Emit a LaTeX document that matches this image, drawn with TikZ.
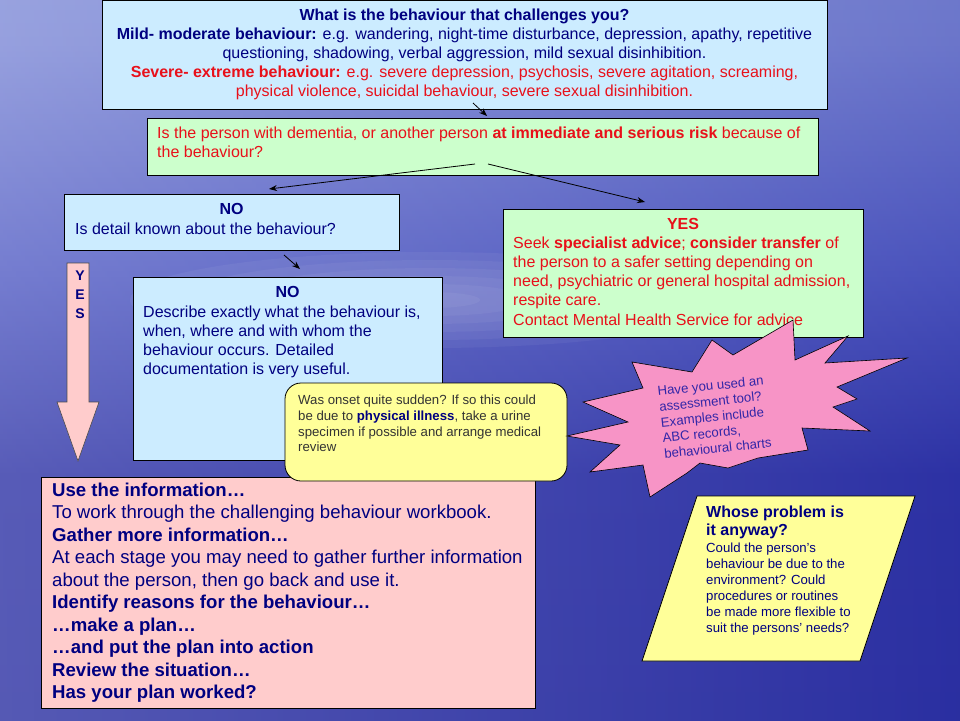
\documentclass[tikz,border=0pt]{standalone}
\usepackage{fontspec}
\setmainfont{Liberation Sans}
\usetikzlibrary{arrows.meta}
\definecolor{navy}{HTML}{000080}
\definecolor{redtxt}{HTML}{E8101A}
\definecolor{boxblue}{HTML}{CCECFF}
\definecolor{boxgreen}{HTML}{CCFFCC}
\definecolor{boxpink}{HTML}{FFCCCC}
\definecolor{boxyellow}{HTML}{FFFF99}
\definecolor{starpink}{HTML}{F794C6}
\definecolor{startxt}{HTML}{3226A8}
\definecolor{graytxt}{HTML}{333333}
\definecolor{bgA}{HTML}{96A6E4}
\definecolor{bgB}{HTML}{7C88D6}
\definecolor{bgC}{HTML}{525CC4}
\definecolor{bgD}{HTML}{2E33A6}
\definecolor{bgE}{HTML}{272B9C}
\pgfdeclareverticalshading{bgshade}{100bp}{color(0bp)=(bgE); color(42bp)=(bgD); color(56bp)=(bgC); color(72bp)=(bgB); color(100bp)=(bgA)}
\newcommand\fs[2]{\fontsize{#1}{#2}\selectfont}
\begin{document}
\begin{tikzpicture}[x=1pt,y=-1pt,
  box/.style={draw=black, line width=0.8pt, anchor=north west, inner sep=0pt, outer sep=0pt},
  tl/.style={anchor=base west, inner sep=0pt, font=\fs{16}{19}},
  tc/.style={anchor=base, inner sep=0pt, font=\fs{16}{19}},
  bl/.style={anchor=base west, inner sep=0pt, font=\fs{18.6}{22}, text=navy},
  yl/.style={anchor=base west, inner sep=0pt, font=\fs{13.2}{15.7}, text=graytxt},
  sl/.style={anchor=base west, inner sep=0pt, font=\fs{13.2}{15.7}, text=startxt},
  pl/.style={anchor=base west, inner sep=0pt, font=\fs{13.2}{16}, text=navy},
  arr/.style={-{Stealth[length=8pt,width=6pt]}, line width=0.8pt, black}]
\useasboundingbox (0,0) rectangle (960,720);
% background
\shade[shading=bgshade] (0,0) rectangle (960,720);
\shade[left color=white, middle color=bgC, right color=bgE, opacity=0.2] (0,0) rectangle (960,720);
\foreach \r in {1,...,6}{\fill[white, opacity=0.05] (430,300) ellipse ({50*\r} and {8*\r});}

% boxes
\node[box, fill=boxblue, minimum width=725pt, minimum height=109pt] (top) at (102,0.4) {};
\node[box, fill=boxgreen, minimum width=671pt, minimum height=57pt] (risk) at (147,118) {};
\node[box, fill=boxblue, minimum width=335pt, minimum height=56pt] (no1) at (64,194) {};
\node[box, fill=boxblue, minimum width=309pt, minimum height=183pt] (no2) at (133,277) {};
\node[box, fill=boxgreen, minimum width=360pt, minimum height=128pt] (yes) at (503,209) {};
\node[box, fill=boxpink, minimum width=494pt, minimum height=231pt] (use) at (41,477) {};

% YES arrow
\draw[fill=boxpink, line width=0.6pt, draw=black!70] (67,263) -- (89,263) -- (89,402) -- (99,402) -- (78,461) -- (57,402) -- (67,402) -- cycle;
\node[anchor=base, inner sep=0pt, font=\fs{14}{16}\bfseries, text=navy] (yY) at (80,280) {Y};
\node[anchor=base, inner sep=0pt, font=\fs{14}{16}\bfseries, text=navy] (yE) at (80,299) {E};
\node[anchor=base, inner sep=0pt, font=\fs{14}{16}\bfseries, text=navy] (yS) at (80,318) {S};

% top box text
\node[tc, text=navy] (t1) at (464.5,20) {\textbf{What is the behaviour that challenges you?}};
\node[tc, text=navy] (t2) at (464.5,39.5) {\textbf{Mild- moderate behaviour:} e.g. wandering, night-time disturbance, depression, apathy, repetitive};
\node[tc, text=navy] (t3) at (464.5,58.5) {questioning, shadowing, verbal aggression, mild sexual disinhibition.};
\node[tc, text=redtxt] (t4) at (464.5,77.5) {\textbf{Severe- extreme behaviour:} e.g. severe depression, psychosis, severe agitation, screaming,};
\node[tc, text=redtxt] (t5) at (464.5,96.5) {physical violence, suicidal behaviour, severe sexual disinhibition.};

% risk box text
\node[tl, text=redtxt] (r1) at (157,138) {Is the person with dementia, or another person \textbf{at immediate and serious risk} because of};
\node[tl, text=redtxt] (r2) at (157,157) {the behaviour?};

% NO box 1
\node[tc, text=navy] (n1a) at (231.5,214) {\textbf{NO}};
\node[tl, text=navy] (n1b) at (75,234) {Is detail known about the behaviour?};

% NO box 2
\node[tc, text=navy] (n2a) at (287.5,297) {\textbf{NO}};
\node[tl, text=navy] (n2b) at (143,317) {Describe exactly what the behaviour is,};
\node[tl, text=navy] (n2c) at (143,336) {when, where and with whom the};
\node[tl, text=navy] (n2d) at (143,355) {behaviour occurs. Detailed};
\node[tl, text=navy] (n2e) at (143,374) {documentation is very useful.};

% YES box
\node[tc, text=redtxt] (y1) at (683,229) {\textbf{YES}};
\node[tl, text=redtxt] (y2) at (513,248) {Seek \textbf{specialist advice}; \textbf{consider transfer} of};
\node[tl, text=redtxt] (y3) at (513,267.5) {the person to a safer setting depending on};
\node[tl, text=redtxt] (y4) at (513,286.5) {need, psychiatric or general hospital admission,};
\node[tl, text=redtxt] (y5) at (513,305.5) {respite care.};
\node[tl, text=redtxt] (y6) at (513,325) {Contact Mental Health Service for advice};

% use box text
\node[bl] (u1) at (52,496) {\textbf{Use the information…}};
\node[bl] (u2) at (52,518.5) {To work through the challenging behaviour workbook.};
\node[bl] (u3) at (52,541) {\textbf{Gather more information…}};
\node[bl] (u4) at (52,563.5) {At each stage you may need to gather further information};
\node[bl] (u5) at (52,586) {about the person, then go back and use it.};
\node[bl] (u6) at (52,608.5) {\textbf{Identify reasons for the behaviour…}};
\node[bl] (u7) at (52,631) {\textbf{…make a plan…}};
\node[bl] (u8) at (52,653.5) {\textbf{…and put the plan into action}};
\node[bl] (u9) at (52,676) {\textbf{Review the situation…}};
\node[bl] (u10) at (52,698.5) {\textbf{Has your plan worked?}};

% yellow callout
\node[box, fill=boxyellow, rounded corners=16pt, minimum width=282pt, minimum height=98pt] (onset) at (285,383) {};
\node[yl] (o1) at (298,404) {Was onset quite sudden? If so this could};
\node[yl] (o2) at (298,420) {be due to {\color{navy}\textbf{physical illness}}, take a urine};
\node[yl] (o3) at (298,436) {specimen if possible and arrange medical};
\node[yl] (o4) at (298,451.5) {review};

% star
\draw[fill=starpink, line width=0.6pt] (793,320) -- (795,360) -- (848,336) -- (825,363) -- (907,358) -- (837,387) -- (857,399) -- (833,407) -- (870,431) -- (802,428) -- (808,450) -- (758,458) -- (728,468) -- (700,463) -- (687,473) -- (650,497) -- (643,465) -- (590,472) -- (620,445) -- (567,436) -- (628,422) -- (583,402) -- (643,388) -- (632,362) -- (692,372) -- (712,340) -- (733,355) -- cycle;
\begin{scope}[shift={(658,396)}, rotate=6, transform shape]
\node[sl] (s1) at (0,0) {Have you used an};
\node[sl] (s2) at (0,15.7) {assessment tool?};
\node[sl] (s3) at (0,31.4) {Examples include};
\node[sl] (s4) at (0,47.1) {ABC records,};
\node[sl] (s5) at (0,62.8) {behavioural charts};
\end{scope}

% parallelogram
\draw[fill=boxyellow, line width=0.8pt] (697,496) -- (915,496) -- (860,661) -- (642,661) -- cycle;
\node[anchor=base west, inner sep=0pt, font=\fs{16}{19}\bfseries, text=navy] (w1) at (706,517) {Whose problem is};
\node[anchor=base west, inner sep=0pt, font=\fs{16}{19}\bfseries, text=navy] (w2) at (706,535.5) {it anyway?};
\node[pl] (w3) at (706,552) {Could the person’s};
\node[pl] (w4) at (706,568) {behaviour be due to the};
\node[pl] (w5) at (706,584) {environment? Could};
\node[pl] (w6) at (706,600) {procedures or routines};
\node[pl] (w7) at (706,616) {be made more flexible to};
\node[pl] (w8) at (706,632) {suit the persons’ needs?};

% connectors
\coordinate (a1s) at (473,103); \coordinate (a1e) at (487,116);
\coordinate (a2s) at (475,164); \coordinate (a2e) at (269,189);
\coordinate (a3s) at (488,164); \coordinate (a3e) at (645,202);
\coordinate (a4s) at (284,255); \coordinate (a4e) at (300,269);
\draw[arr] (a1s) -- (a1e);
\draw[arr] (a2s) -- (a2e);
\draw[arr] (a3s) -- (a3e);
\draw[arr] (a4s) -- (a4e);
\end{tikzpicture}
\end{document}
